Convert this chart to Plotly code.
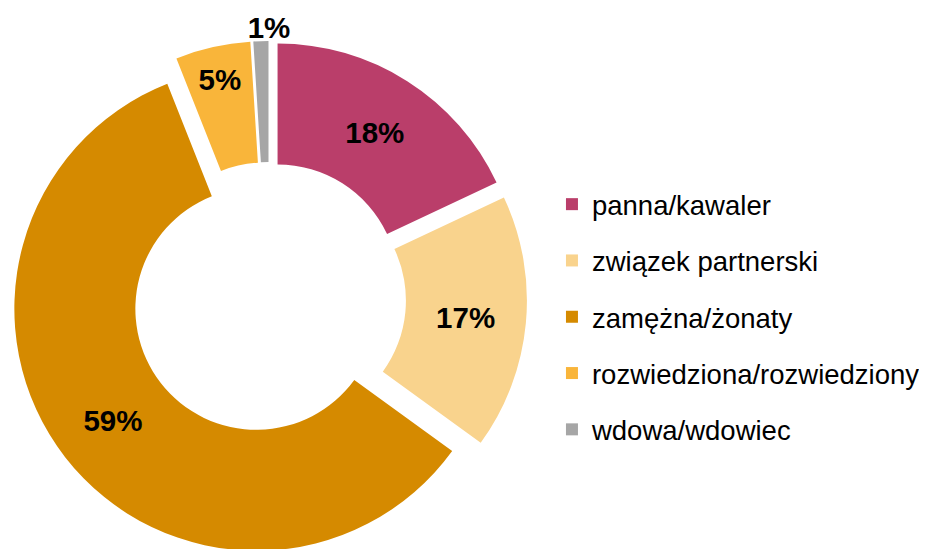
import plotly.graph_objects as go

categories = ["panna/kawaler", "związek partnerski", "zamężna/żonaty",
              "rozwiedziona/rozwiedziony", "wdowa/wdowiec"]
values = [18, 17, 59, 5, 1]
colors = ["#BA3E6A", "#F9D38D", "#D58A00", "#F9B53A", "#A6A6A6"]
# the tiny last slice gets its label above the ring (pie title, centred)
text_positions = ["inside", "inside", "inside", "inside", "none"]

FONT = "Liberation Sans, Arial, sans-serif"

legend_labels = [
    f"<span style='font-size:27.5px;baseline-shift:5px'>{c}</span>" for c in categories
]

fig = go.Figure(
    go.Pie(
        labels=legend_labels,
        values=values,
        sort=False,
        direction="clockwise",
        rotation=0,
        hole=0.5,
        pull=[0.066] * len(values),
        marker=dict(colors=colors, line=dict(width=0)),
        texttemplate="%{value}%",
        textposition=text_positions,
        insidetextorientation="horizontal",
        textfont=dict(family=FONT, size=29.5, color="black", weight="bold"),
        title=dict(
            text=f"<b>{values[-1]}%</b>",
            position="top center",
            font=dict(family=FONT, size=29.5, color="black"),
        ),
        hoverinfo="skip",
        domain=dict(x=[0.003236, 0.559871], y=[0.085, 1.0]),
    )
)

fig.update_layout(
    width=927,
    height=600,
    margin=dict(l=0, r=0, t=0, b=0, autoexpand=False),
    paper_bgcolor="white",
    plot_bgcolor="white",
    showlegend=True,
    legend=dict(
        x=0.5868,
        xanchor="left",
        y=0.485,
        yanchor="middle",
        font=dict(family=FONT, size=41, color="black"),
        itemwidth=30,
        bgcolor="rgba(0,0,0,0)",
    ),
)

fig.write_html("out.html")
